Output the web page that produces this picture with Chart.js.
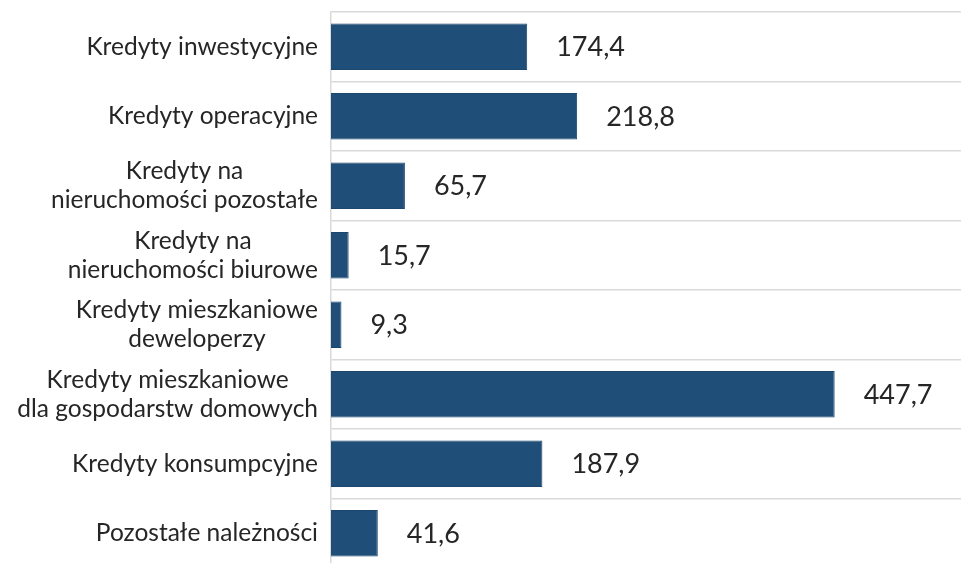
<!DOCTYPE html>
<html lang="pl">
<head>
<meta charset="UTF-8" />
<title>Kredyty</title>
<script src="https://cdn.jsdelivr.net/npm/chart.js"></script>
<style>
    html, body {
        margin: 0;
        padding: 0;
        background: #ffffff;
        overflow: hidden;
    }
    .wrap {
        position: relative;
        width: 961px;
        height: 568px;
    }
</style>
</head>
<body>
<div class="wrap">
    <canvas id="chart"></canvas>
</div>
<script>
    // dane
    const kategorie = [
        ['Kredyty inwestycyjne'],
        ['Kredyty operacyjne'],
        ['Kredyty na', 'nieruchomości pozostałe'],
        ['Kredyty na', 'nieruchomości biurowe'],
        ['Kredyty mieszkaniowe', 'deweloperzy'],
        ['Kredyty mieszkaniowe', 'dla gospodarstw domowych'],
        ['Kredyty konsumpcyjne'],
        ['Pozostałe należności']
    ];
    const wartosci = [174.4, 218.8, 65.7, 15.7, 9.3, 447.7, 187.9, 41.6];

    const FONT = 'Lato, "Open Sans", sans-serif';
    const kolorTekstu = '#262626';

    // etykiety kategorii: blok wyrównany do prawej, linie wyśrodkowane
    const etykietyKategorii = {
        id: 'etykietyKategorii',
        afterDraw(chart) {
            const ctx = chart.ctx;
            const y = chart.scales.y;
            const prawa = chart.chartArea.left - 13;
            const lh = 29;
            ctx.save();
            ctx.font = '24.5px ' + FONT;
            ctx.fillStyle = kolorTekstu;
            ctx.textBaseline = 'middle';
            ctx.textAlign = 'center';
            kategorie.forEach((linie, i) => {
                const szer = Math.max(...linie.map(l => ctx.measureText(l).width));
                const srodekX = prawa - szer / 2;
                const cy = y.getPixelForValue(i);
                const start = cy - (linie.length - 1) * lh / 2;
                linie.forEach((l, j) => ctx.fillText(l, srodekX, start + j * lh));
            });
            ctx.restore();
        }
    };

    // wartości przy słupkach
    const etykietyWartosci = {
        id: 'etykietyWartosci',
        afterDatasetsDraw(chart) {
            const ctx = chart.ctx;
            const meta = chart.getDatasetMeta(0);
            ctx.save();
            ctx.font = '27px ' + FONT;
            ctx.fillStyle = kolorTekstu;
            ctx.textBaseline = 'middle';
            ctx.textAlign = 'left';
            meta.data.forEach((bar, i) => {
                const txt = wartosci[i].toFixed(1).replace('.', ',');
                ctx.fillText(txt, bar.x + 29, bar.y + 1);
            });
            ctx.restore();
        }
    };

    new Chart(document.getElementById('chart'), {
        type: 'bar',
        data: {
            labels: kategorie,
            datasets: [{
                data: wartosci,
                backgroundColor: '#1f4e79',
                borderColor: '#1b466d',
                borderWidth: 1,
                categoryPercentage: 1,
                barPercentage: 0.67
            }]
        },
        options: {
            indexAxis: 'y',
            responsive: true,
            maintainAspectRatio: false,
            animation: false,
            layout: { padding: { top: 12, right: 0, bottom: 0, left: 0 } },
            plugins: {
                legend: { display: false },
                tooltip: { enabled: false }
            },
            scales: {
                x: {
                    display: false,
                    min: 0,
                    max: 560
                },
                y: {
                    ticks: { display: false },
                    grid: {
                        color: '#d9d9d9',
                        lineWidth: 1.5,
                        offset: true,
                        drawTicks: false
                    },
                    border: { color: '#d9d9d9', width: 1.5 },
                    afterFit(scale) {
                        scale.width = 331;
                    }
                }
            }
        },
        plugins: [etykietyKategorii, etykietyWartosci]
    });
</script>
</body>
</html>
